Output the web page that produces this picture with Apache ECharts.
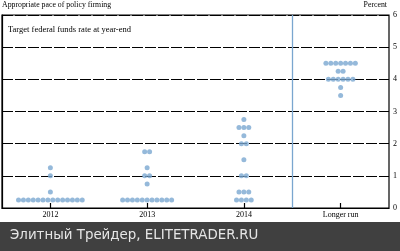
<!DOCTYPE html>
<html>
<head>
<meta charset="utf-8">
<script src="https://cdn.jsdelivr.net/npm/echarts@6/dist/echarts.min.js"></script>
<style>html,body{margin:0;padding:0;background:#fff}#c{width:400px;height:251px}</style>
</head>
<body>
<div id="c"></div>
<script>
const categories = ['2012', '2013', '2014', 'Longer run'];
const yTicks = [0, 1, 2, 3, 4, 5, 6];
// rate levels and number of participants at each level
const levels2012 = [0.25, 0.5, 1.0, 1.25];
const counts2012 = [14, 1, 1, 1];
const levels2013 = [0.25, 0.75, 1.0, 1.25, 1.75];
const counts2013 = [11, 1, 2, 1, 2];
const levels2014 = [0.25, 0.5, 1.0, 1.5, 2.0, 2.25, 2.5, 2.75];
const counts2014 = [4, 3, 2, 1, 2, 1, 3, 1];
const levelsLong = [3.5, 3.75, 4.0, 4.25, 4.5];
const countsLong = [1, 1, 6, 2, 7];
const separatorAt = 3; // boundary before "Longer run"

const groups = [
  [levels2012, counts2012],
  [levels2013, counts2013],
  [levels2014, counts2014],
  [levelsLong, countsLong]
];
const DOT_GAP = 4.9;
const dots = [];
groups.forEach(function (g, ci) {
  g[0].forEach(function (lv, li) {
    const n = g[1][li];
    for (let i = 0; i < n; i++) {
      dots.push({
        value: [categories[ci], lv],
        symbolOffset: [(i - (n - 1) / 2) * DOT_GAP, 0]
      });
    }
  });
});

const serif = 'Liberation Serif';
const chart = echarts.init(document.getElementById('c'), null, {renderer: 'canvas'});
chart.setOption({
  animation: false,
  backgroundColor: '#fff',
  grid: {left: 2, right: 11, top: 15, bottom: 43, show: true, borderColor: '#000', borderWidth: 1.2, backgroundColor: 'transparent'},
  xAxis: [{
    type: 'category',
    data: categories,
    boundaryGap: true,
    axisLine: {show: true, lineStyle: {color: '#000', width: 1.2}},
    axisTick: {show: true, inside: true, length: 5, alignWithLabel: true, lineStyle: {color: '#000', width: 1.2}},
    axisLabel: {fontFamily: serif, fontSize: 8, color: '#000', margin: 3},
    splitLine: {show: false}
  }, {
    type: 'value', min: 0, max: categories.length, show: false
  }],
  yAxis: {
    type: 'value',
    position: 'right',
    min: yTicks[0], max: yTicks[yTicks.length - 1], interval: 1,
    axisLine: {show: true, lineStyle: {color: '#000', width: 1.2}},
    axisTick: {show: false},
    axisLabel: {fontFamily: serif, fontSize: 8, color: '#000', margin: 4},
    splitLine: {show: true, lineStyle: {color: '#000', width: 1.2, type: [11, 2]}}
  },
  graphic: [
    {type: 'text', left: 2, top: 1, style: {text: 'Appropriate pace of policy firming', font: '7.8px "Liberation Serif"', fill: '#000'}},
    {type: 'text', right: 13, top: 1, style: {text: 'Percent', font: '7.8px "Liberation Serif"', fill: '#000'}},
    {type: 'text', left: 8, top: 25, style: {text: 'Target federal funds rate at year-end', font: '8.5px "Liberation Serif"', fill: '#000'}},
    {type: 'rect', left: 0, top: 222, shape: {width: 400, height: 29}, style: {fill: '#404040'}},
    {type: 'text', left: 10, top: 229, style: {text: 'Элитный Трейдер, ELITETRADER.RU', font: '13.4px "DejaVu Sans"', fill: '#e6e6e6'}}
  ],
  series: [{
    type: 'line',
    xAxisIndex: 1,
    data: [],
    silent: true,
    markLine: {
      symbol: 'none', silent: true, label: {show: false},
      lineStyle: {color: '#7aa6cf', width: 1.3, type: 'solid'},
      data: [{xAxis: separatorAt}]
    }
  }, {
    type: 'scatter',
    data: dots,
    symbol: 'circle',
    symbolSize: 5,
    itemStyle: {color: '#7ba7d1'},
    z: 5
  }]
});
</script>
</body>
</html>
